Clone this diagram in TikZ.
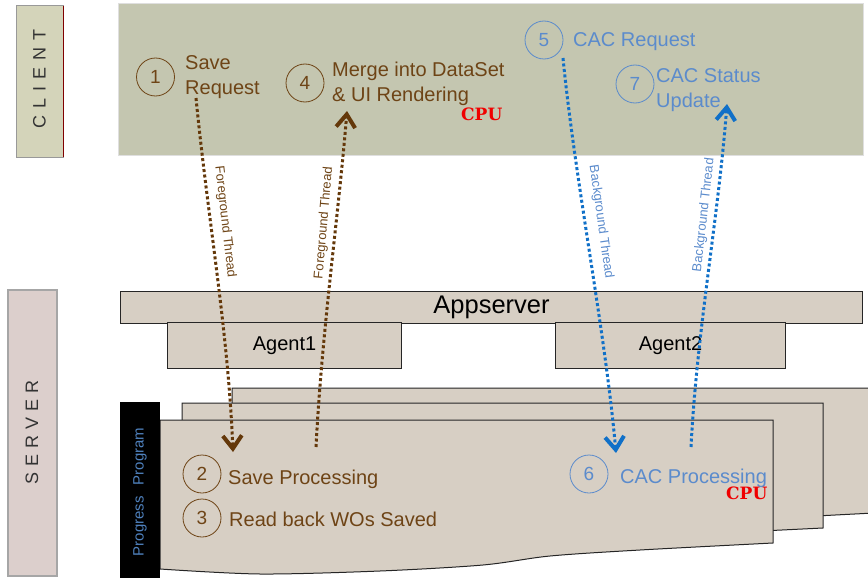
\documentclass[tikz,border=0pt]{standalone}
\usepackage{fontspec}
\setmainfont{Liberation Sans}
\newfontfamily\cpufont{DejaVu Serif}
\usetikzlibrary{arrows.meta}
\definecolor{clientbg}{RGB}{196,198,176}
\definecolor{clientlbl}{RGB}{212,212,186}
\definecolor{serverlbl}{RGB}{220,207,204}
\definecolor{sheetbg}{RGB}{215,207,196}
\definecolor{browntxt}{RGB}{110,68,22}
\definecolor{brownarr}{RGB}{100,56,10}
\definecolor{bluetxt}{RGB}{91,139,204}
\definecolor{bluearr}{RGB}{16,112,200}
\definecolor{progblue}{RGB}{79,129,189}
\definecolor{cpured}{RGB}{240,0,0}
\tikzset{
  numcirc/.style={circle, draw, line width=0.8pt, minimum size=38pt, inner sep=0pt, font=\fontsize{19}{19}\selectfont},
  lbl/.style={anchor=base west, inner sep=0pt, align=left, font=\fontsize{20}{25}\selectfont},
  cpulbl/.style={anchor=base west, inner sep=0pt, text=cpured, font=\cpufont\bfseries\fontsize{17}{17}\selectfont},
  sheet/.style={fill=sheetbg, draw=black!85, line width=1pt},
  thread/.style={line width=3pt, dash pattern=on 3pt off 2.5pt, -{Straight Barb[length=13pt,width=19pt,line width=4pt]}},
  threadlbl/.style={inner sep=0pt, font=\fontsize{13}{13}\selectfont},
  sidelbl/.style={rotate=90, inner sep=0pt, font=\fontsize{18}{18}\selectfont, text=black!80},
}
\begin{document}
\begin{tikzpicture}[x=1pt,y=-1pt]
\useasboundingbox (0,0) rectangle (868,578);
% client side
\draw[fill=clientlbl, draw=gray!80, line width=1pt] (16,6) rectangle (63,157);
\draw[draw=red!50!black, line width=1pt] (63,6) -- (63,157);
\node[sidelbl] (clientlab) at (39.5,79) {C\hspace{7pt}L\hspace{7pt}I\hspace{7pt}E\hspace{7pt}N\hspace{7pt}T};
\draw[fill=clientbg, draw=gray!25, line width=1pt] (118,4) rectangle (863,155);
% server side label
\draw[fill=serverlbl, draw=gray!70, line width=1.5pt] (8,290) rectangle (57,576);
\node[sidelbl] (serverlab) at (32,432) {S\hspace{6pt}E\hspace{6pt}R\hspace{6pt}V\hspace{6pt}E\hspace{6pt}R};
% appserver and agents
\node[sheet, rectangle, minimum width=742pt, minimum height=32pt, anchor=north west, inner sep=0pt, font=\fontsize{25.5}{25.5}\selectfont] (app) at (120,291) {Appserver};
\node[sheet, rectangle, minimum width=234pt, minimum height=46pt, anchor=north west, inner sep=0pt, font=\fontsize{20}{20}\selectfont] (agent1) at (167,322) {Agent1};
\node[sheet, rectangle, minimum width=230pt, minimum height=46pt, anchor=north west, inner sep=0pt, font=\fontsize{20}{20}\selectfont] (agent2) at (555,322) {Agent2};
% stacked program sheets
\draw[sheet] (232,420) -- (232,388) -- (874,388) -- (874,513) -- (700,522) -- (700,420) -- cycle;
\draw[sheet] (182,440) -- (182,403) -- (823,403) -- (823,528) -- (700,534) -- (182,550) -- cycle;
\draw[sheet] (160,420) -- (773,420) -- plot[smooth] coordinates {(773,543) (640,550) (550,556) (483,565) (380,571) (260,574) (160,569)} -- cycle;
\fill[black] (120,402) rectangle (160,578);
\node[rotate=90, inner sep=0pt, text=progblue, font=\fontsize{15}{15}\selectfont] (prog) at (140,492) {Progress\hspace{11pt}Program};
% circles and texts (client)
\node[numcirc, draw=browntxt, text=browntxt] (c1) at (155.5,77) {1};
\node[lbl, text=browntxt] (t1) at (185,95) {Save\\Request};
\node[numcirc, draw=browntxt, text=browntxt] (c4) at (305,83) {4};
\node[lbl, text=browntxt] (t4) at (332,102) {Merge into DataSet\\\& UI Rendering};
\node[cpulbl] (cpu1) at (461,121) {CPU};
\node[numcirc, draw=bluetxt, text=bluetxt] (c5) at (544,40) {5};
\node[lbl, text=bluetxt] (t5) at (573,47) {CAC Request};
\node[numcirc, draw=bluetxt, text=bluetxt] (c7) at (635,84) {7};
\node[lbl, text=bluetxt] (t7) at (656,107) {CAC Status\\Update};
% circles and texts (server)
\node[numcirc, draw=browntxt, text=browntxt] (c2) at (202,474) {2};
\node[lbl, text=browntxt] (t2) at (228,484) {Save Processing};
\node[numcirc, draw=browntxt, text=browntxt] (c3) at (202,518) {3};
\node[lbl, text=browntxt] (t3) at (229,526) {Read back WOs Saved};
\node[numcirc, draw=bluetxt, text=bluetxt] (c6) at (589,474) {6};
\node[lbl, text=bluetxt] (t6) at (620,483) {CAC Processing};
\node[cpulbl] (cpu2) at (726,499) {CPU};
% arrow end points
\coordinate (a1s) at (196,98);
\coordinate (a1e) at (233,452);
\coordinate (a2s) at (316,447);
\coordinate (a2e) at (347,111);
\coordinate (a3s) at (563,58);
\coordinate (a3e) at (616,453);
\coordinate (a4s) at (691,447);
\coordinate (a4e) at (727,104);
\draw[thread, draw=brownarr] (a1s) .. controls (208,220) and (228,330) .. (a1e);
\draw[thread, draw=brownarr] (a2s) .. controls (322,330) and (338,220) .. (a2e);
\draw[thread, draw=bluearr] (a3s) .. controls (575,180) and (605,330) .. (a3e);
\draw[thread, draw=bluearr] (a4s) .. controls (697,330) and (718,220) .. (a4e);
% thread labels
\node[threadlbl, text=browntxt, rotate=-83.5] (fg1) at (225,222) {Foreground Thread};
\node[threadlbl, text=browntxt, rotate=85] (fg2) at (324,223) {Foreground Thread};
\node[threadlbl, text=bluetxt, rotate=-82] (bg1) at (601,222) {Background Thread};
\node[threadlbl, text=bluetxt, rotate=83.5] (bg2) at (704,215) {Background Thread};
\end{tikzpicture}
\end{document}
